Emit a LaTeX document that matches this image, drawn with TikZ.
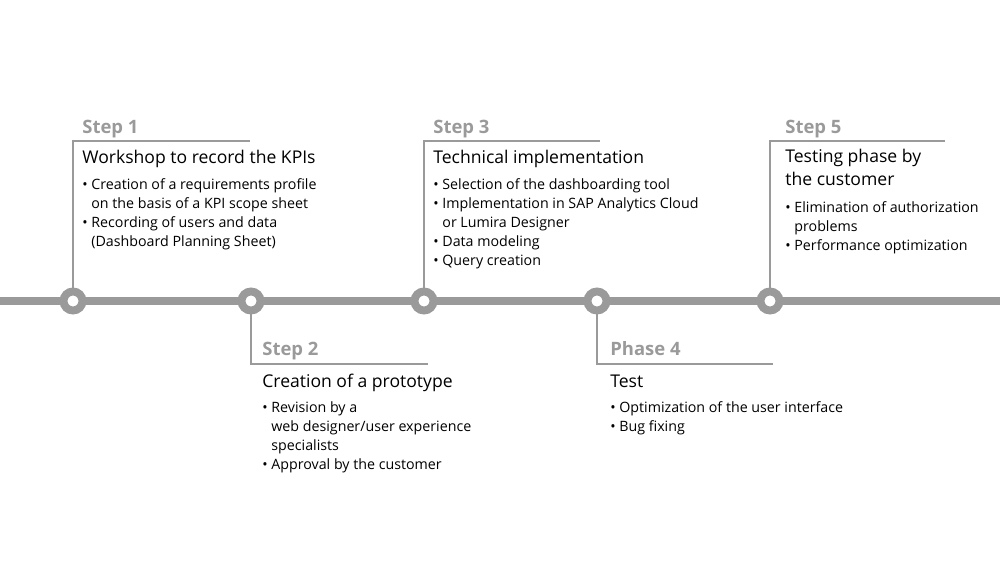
\documentclass[tikz,border=0pt]{standalone}
\usepackage{fontspec}
\setmainfont{Open Sans}
\usetikzlibrary{positioning}
\definecolor{linegray}{HTML}{9A9A9A}
\tikzset{
  stepdot/.style={circle,draw=linegray,line width=4.5pt,fill=white,minimum size=0.38cm,inner sep=0pt},
  stepline/.style={draw=linegray,line width=1.2pt},
  steplabel/.style={anchor=base west,inner sep=0pt,text=linegray,font=\fontsize{10.5}{13}\selectfont\bfseries},
  steptitle/.style={anchor=base west,inner sep=0pt,align=left,font=\fontsize{10}{12.8}\selectfont},
  steptext/.style={anchor=north west,inner sep=0pt,align=left,font=\fontsize{8.1}{10.8}\selectfont}
}
\newcommand{\bl}{\textbullet\ }
\newcommand{\ind}{\phantom{\textbullet\ }}
\begin{document}
\begin{tikzpicture}[x=0.02cm,y=-0.02cm]
\useasboundingbox (0,0) rectangle (1000,565);
% timeline
\draw[linegray,line width=4.5pt] (0,301)--(1000,301);
\node[stepdot] (c1) at (73,301) {};
\node[stepdot] (c2) at (251,301) {};
\node[stepdot] (c3) at (424,301) {};
\node[stepdot] (c4) at (597,301) {};
\node[stepdot] (c5) at (770,301) {};
% brackets
\coordinate (t1) at (73,141); \coordinate (e1) at (250,141);
\coordinate (t2) at (251,364); \coordinate (e2) at (428,364);
\coordinate (t3) at (424,141); \coordinate (e3) at (600,141);
\coordinate (t4) at (597,364); \coordinate (e4) at (773,364);
\coordinate (t5) at (770,141); \coordinate (e5) at (945,141);
\draw[stepline] (c1.north)--(t1)--(e1);
\draw[stepline] (c2.south)--(t2)--(e2);
\draw[stepline] (c3.north)--(t3)--(e3);
\draw[stepline] (c4.south)--(t4)--(e4);
\draw[stepline] (c5.north)--(t5)--(e5);

%Step 1
\node[steplabel] (l1) at (82,133) {Step 1};
\node[steptitle] (h1) at (82,163) {Workshop to record the KPIs};
\node[steptext] (b1) at (82,178) {\bl Creation of a requirements profile\\ \ind on the basis of a KPI scope sheet\\ \bl Recording of users and data\\ \ind (Dashboard Planning Sheet)};

%Step 2
\node[steplabel] (l2) at (262,355) {Step 2};
\node[steptitle] (h2) at (262,387) {Creation of a prototype};
\node[steptext] (b2) at (262,401) {\bl Revision by a\\ \ind web designer/user experience\\ \ind specialists\\ \bl Approval by the customer};

%Step 3
\node[steplabel] (l3) at (433,133) {Step 3};
\node[steptitle] (h3) at (433,163) {Technical implementation};
\node[steptext] (b3) at (433,178) {\bl Selection of the dashboarding tool\\ \bl Implementation in SAP Analytics Cloud\\ \ind or Lumira Designer\\ \bl Data modeling\\ \bl Query creation};

%Phase 4
\node[steplabel] (l4) at (610,355) {Phase 4};
\node[steptitle] (h4) at (610,387) {Test};
\node[steptext] (b4) at (610,401) {\bl Optimization of the user interface\\ \bl Bug fixing};

%Step 5
\node[steplabel] (l5) at (785,133) {Step 5};
\node[steptitle,anchor=north west] (h5) at (785,149) {Testing phase by\\ the customer};
\node[steptext] (b5) at (785,201) {\bl Elimination of authorization\\ \ind problems\\ \bl Performance optimization};
\end{tikzpicture}
\end{document}
